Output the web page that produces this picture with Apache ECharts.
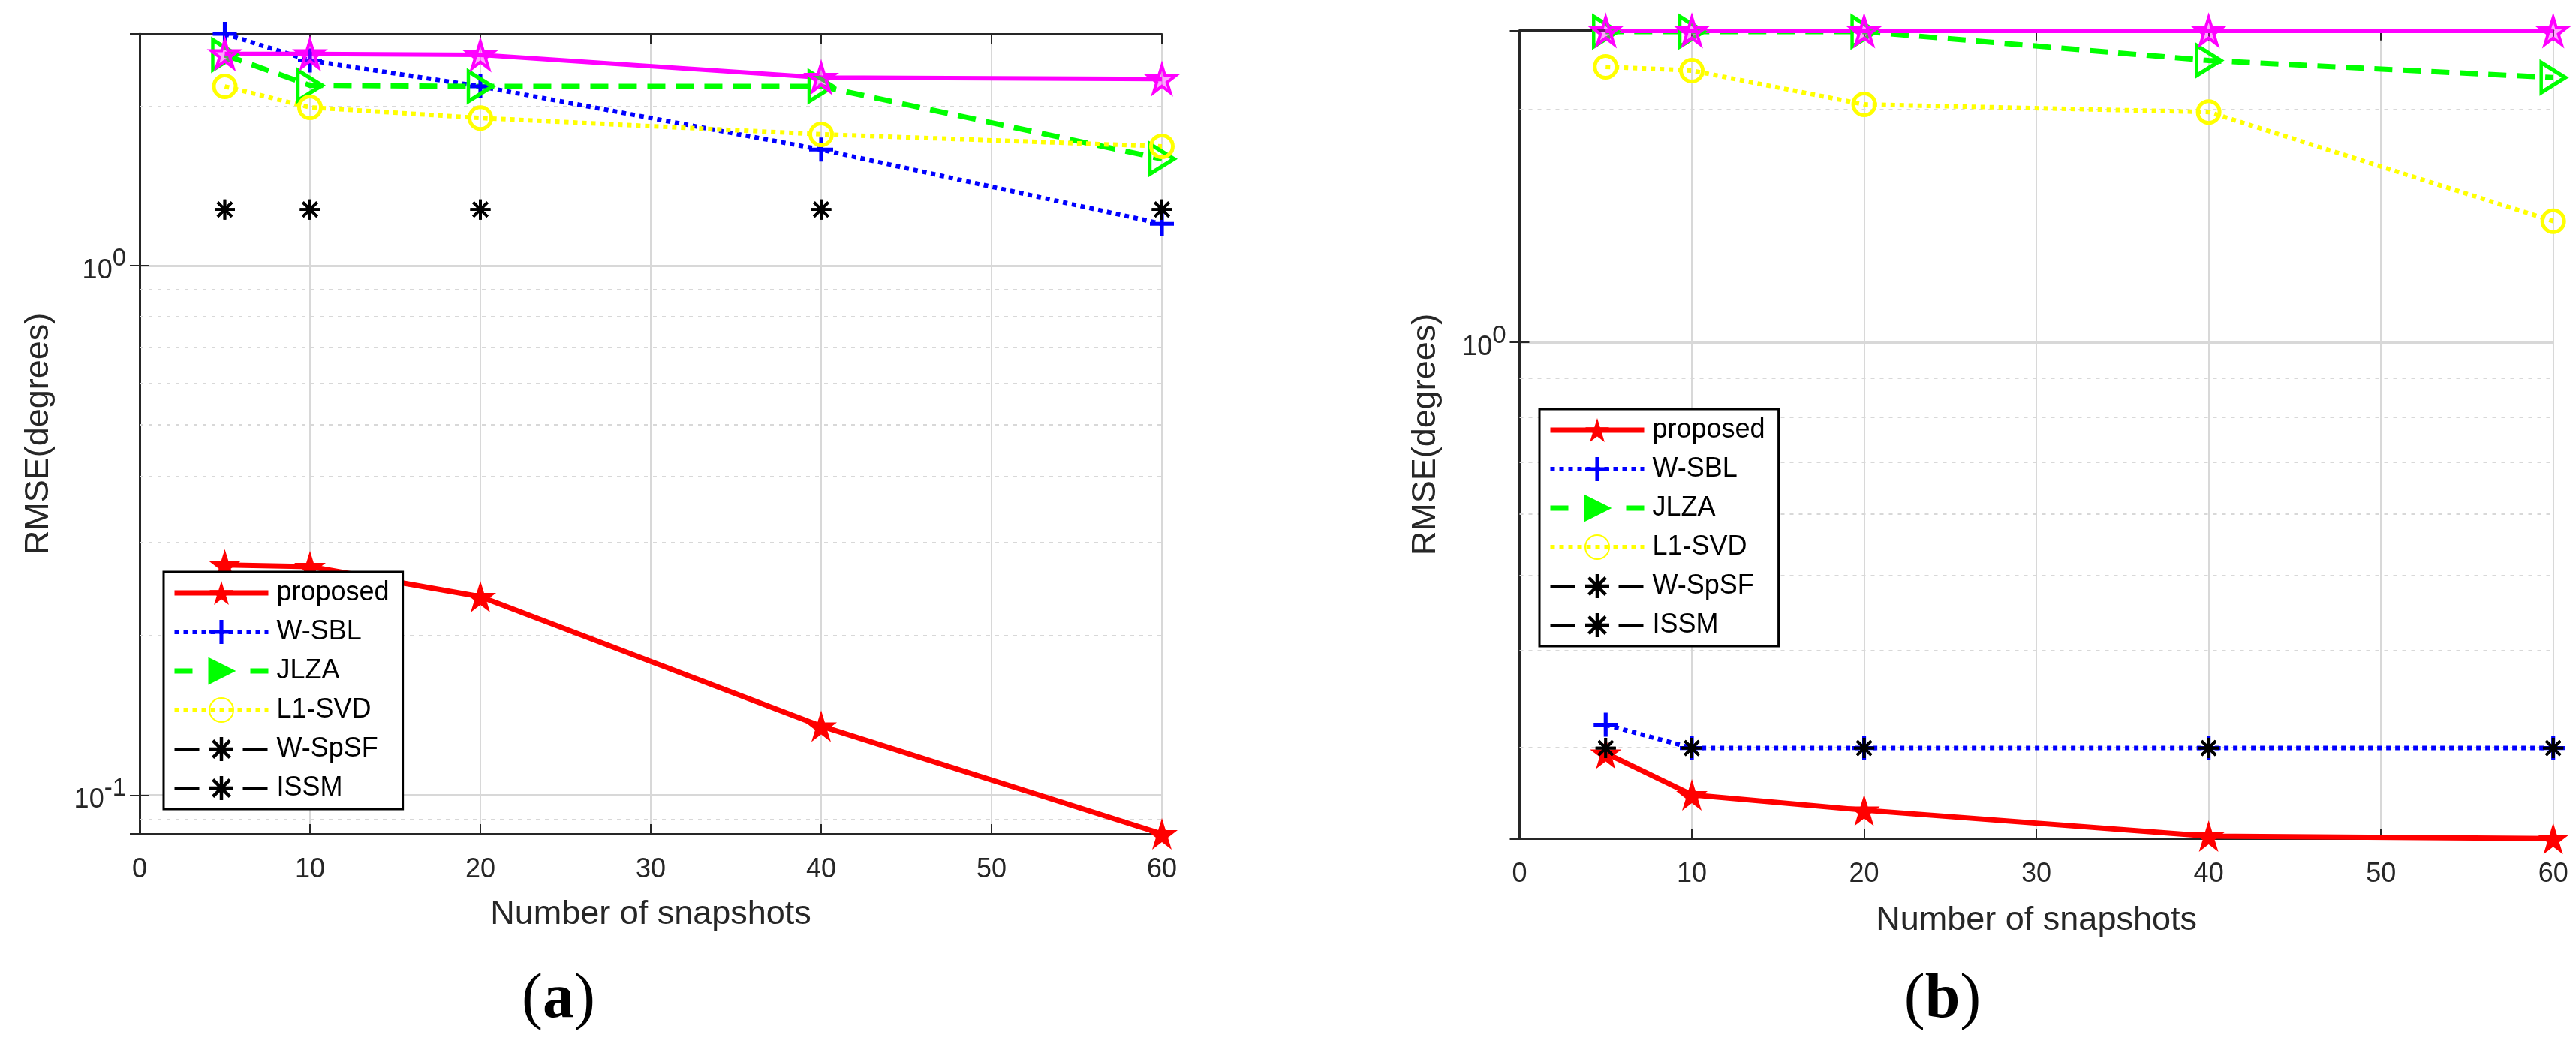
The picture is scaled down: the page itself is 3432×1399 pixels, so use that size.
<!DOCTYPE html>
<html>
<head>
<meta charset="utf-8">
<script src="https://cdn.jsdelivr.net/npm/echarts@6/dist/echarts.min.js"></script>
<style>html,body{margin:0;padding:0;background:#fff}#c{width:3432px;height:1399px}</style>
</head>
<body>
<div id="c"></div>
<script>
// ---------- data ----------
const snapshots = [5, 10, 20, 40, 60];
const legendNames = ['proposed', 'W-SBL', 'JLZA', 'L1-SVD', 'W-SpSF', 'ISSM'];

// panel (a)
const proposedA = [0.272, 0.270, 0.237, 0.135, 0.0845];
const wsblA     = [2.74, 2.44, 2.18, 1.656, 1.199];
const jlzaA     = [2.50, 2.19, 2.18, 2.18, 1.59];
const l1svdA    = [2.18, 1.99, 1.90, 1.77, 1.68];
const wspsfA    = [1.276, 1.276, 1.276, 1.276, 1.276];
const issmA     = [1.276, 1.276, 1.276, 1.276, 1.276];
const magentaA  = [2.51, 2.51, 2.50, 2.265, 2.25];

// panel (b)
const proposedB = [0.295, 0.2606, 0.249, 0.2305, 0.2288];
const wsblB     = [0.321, 0.2995, 0.2995, 0.2995, 0.2995];
const jlzaB     = [2.52, 2.52, 2.52, 2.312, 2.198];
const l1svdB    = [2.269, 2.244, 2.029, 1.984, 1.434];
const wspsfB    = [0.2995, 0.2995, 0.2995, 0.2995, 0.2995];
const issmB     = [0.2995, 0.2995, 0.2995, 0.2995, 0.2995];
const magentaB  = [2.525, 2.525, 2.525, 2.525, 2.525];

// axis ranges / minor grid values
const yRangeA = [0.0845, 2.74];
const yRangeB = [0.2288, 2.527];
const minorA = [0.09, 0.2, 0.3, 0.4, 0.5, 0.6, 0.7, 0.8, 0.9, 2];
const minorB = [0.3, 0.4, 0.5, 0.6, 0.7, 0.8, 0.9, 2];
const panelLabels = ['a', 'b'];

// ---------- styling ----------
const FONT = '"Liberation Sans", Arial, Helvetica, sans-serif';
const SERIF = '"Liberation Serif", "Times New Roman", serif';
const AX = '#262626';
const GRIDC = '#d8d8d8';

const STAR = 'path://M50 0 L61.2 34.5 L97.6 34.5 L68.2 55.9 L79.4 90.5 L50 69.1 L20.6 90.5 L31.8 55.9 L2.4 34.5 L38.8 34.5 Z';
const PLUS = 'path://M42 0 L58 0 L58 42 L100 42 L100 58 L58 58 L58 100 L42 100 L42 58 L0 58 L0 42 L42 42 Z';
const TRI = 'path://M0 0 L100 50 L0 100 Z';
const AST = 'path://M0 43 L100 43 L100 57 L0 57 Z M43 0 L57 0 L57 100 L43 100 Z M19.6 9.7 L90.3 80.4 L80.4 90.3 L9.7 19.6 Z M80.4 9.7 L90.3 19.6 L19.6 90.3 L9.7 80.4 Z';

const styles = {
  'proposed': {symbol: STAR, symbolSize: 42, lineStyle: {color: '#ff0000', width: 7}, itemStyle: {color: '#ff0000'}},
  'W-SBL': {symbol: PLUS, symbolSize: 32, lineStyle: {color: '#0000ff', width: 6, type: [6, 6]}, itemStyle: {color: '#0000ff'}},
  'JLZA': {symbol: TRI, symbolSize: [32, 40], lineStyle: {color: '#00ff00', width: 7, type: [24, 14]}, itemStyle: {color: 'rgba(0,255,0,0)', borderColor: '#00ff00', borderWidth: 5}},
  'L1-SVD': {symbol: 'circle', symbolSize: 29, lineStyle: {color: '#ffff00', width: 6, type: [6, 6]}, itemStyle: {color: 'rgba(255,255,0,0)', borderColor: '#ffff00', borderWidth: 5}},
  'W-SpSF': {symbol: AST, symbolSize: 27, lineStyle: {color: '#000000', width: 4, opacity: 0}, itemStyle: {color: '#000000'}},
  'ISSM': {symbol: AST, symbolSize: 27, lineStyle: {color: '#000000', width: 4, opacity: 0}, itemStyle: {color: '#000000'}},
  'magenta': {symbol: STAR, symbolSize: 36, lineStyle: {color: '#ff00ff', width: 6}, itemStyle: {color: 'rgba(255,0,255,0.35)', borderColor: '#ff00ff', borderWidth: 4}}
};

function pairs(vals) { return snapshots.map((x, i) => [x, vals[i]]); }

function mkSeries(panel, name, vals, minor) {
  const st = styles[name];
  const s = {
    type: 'line', name: name === 'magenta' ? 'magenta-' + panel : name,
    xAxisIndex: panel * 2, yAxisIndex: panel * 2,
    data: pairs(vals), symbol: st.symbol, symbolSize: st.symbolSize,
    showSymbol: true, showAllSymbol: true, clip: false,
    lineStyle: st.lineStyle, itemStyle: st.itemStyle,
    emphasis: {disabled: true}, animation: false, z: 3
  };
  if (minor) {
    s.markLine = {
      silent: true, z: 1, symbol: ['none', 'none'], label: {show: false}, animation: false,
      lineStyle: {color: GRIDC, width: 2, type: [5, 7]},
      emphasis: {disabled: true},
      data: minor.map(v => ({yAxis: v}))
    };
  }
  return s;
}

function logLabel(v) {
  const e = Math.log10(v);
  const r = Math.round(e);
  if (Math.abs(e - r) > 1e-6) return '';
  return '{b|10}{s|' + r + '}';
}

const grids = [
  {left: 186, right: 1884, top: 45, bottom: 288},
  {left: 2024.5, right: 30.3, top: 40.7, bottom: 281.7}
];

function xAxes(gi, nameGap) {
  return [{
    type: 'value', gridIndex: gi, position: 'bottom', min: 0, max: 60, interval: 10,
    name: 'Number of snapshots', nameLocation: 'middle', nameGap: nameGap,
    nameTextStyle: {fontFamily: FONT, fontSize: 45, color: AX},
    axisLine: {show: true, lineStyle: {color: AX, width: 3}},
    axisTick: {show: true, inside: true, length: 13, lineStyle: {color: AX, width: 2}},
    axisLabel: {fontFamily: FONT, fontSize: 36, color: AX, margin: 30},
    splitLine: {show: true, lineStyle: {color: GRIDC, width: 2}}
  }, {
    type: 'value', gridIndex: gi, position: 'top', min: 0, max: 60, interval: 10,
    axisLine: {show: true, lineStyle: {color: AX, width: 3}},
    axisTick: {show: true, inside: true, length: 13, lineStyle: {color: AX, width: 2}},
    axisLabel: {show: false}, splitLine: {show: false}
  }];
}

function yAxes(gi, range, nameGap) {
  const rich = {
    b: {fontFamily: FONT, fontSize: 36, color: AX, padding: [14, 0, 0, 0]},
    s: {fontFamily: FONT, fontSize: 33, color: AX, verticalAlign: 'top'}
  };
  return [{
    type: 'log', logBase: 10, gridIndex: gi, position: 'left', min: range[0], max: range[1],
    name: 'RMSE(degrees)', nameLocation: 'middle', nameGap: nameGap,
    nameTextStyle: {fontFamily: FONT, fontSize: 45, color: AX},
    axisLine: {show: true, lineStyle: {color: AX, width: 3}},
    axisTick: {show: true, inside: true, length: 13, lineStyle: {color: AX, width: 2}},
    axisLabel: {formatter: logLabel, rich: rich, margin: 18, showMinLabel: false, showMaxLabel: false},
    splitLine: {show: true, lineStyle: {color: GRIDC, width: 3}}
  }, {
    type: 'log', logBase: 10, gridIndex: gi, position: 'right', min: range[0], max: range[1],
    axisLine: {show: true, lineStyle: {color: AX, width: 2}},
    axisTick: {show: true, inside: true, length: 13, lineStyle: {color: AX, width: 2}},
    axisLabel: {show: false}, splitLine: {show: false}
  }];
}

function legendData() {
  return legendNames.map(n => {
    if (n === 'W-SpSF' || n === 'ISSM') {
      return {name: n, lineStyle: {color: '#000000', width: 4, type: [33, 58], opacity: 1}};
    }
    if (n === 'JLZA') {
      return {name: n, lineStyle: {color: '#00ff00', width: 7, type: [24, 77], opacity: 1},
              itemStyle: {color: '#00ff00', borderColor: '#00ff00', borderWidth: 3}};
    }
    const ls = styles[n].lineStyle;
    return {name: n, lineStyle: {color: ls.color, width: ls.width, type: ls.type || 'solid', opacity: 1}};
  });
}

function mkLegend(left, top) {
  return {
    show: true, orient: 'vertical', left: left, top: top,
    itemWidth: 125, itemHeight: 40, itemGap: 12,
    padding: [8, 18, 8, 11],
    backgroundColor: '#ffffff', borderColor: '#000000', borderWidth: 3,
    selectedMode: false,
    textStyle: {fontFamily: FONT, fontSize: 36, color: '#000000', lineHeight: 40, padding: [0, 0, 0, 6]},
    data: legendData()
  };
}

const series = [
  mkSeries(0, 'proposed', proposedA),
  mkSeries(0, 'W-SBL', wsblA),
  mkSeries(0, 'JLZA', jlzaA),
  mkSeries(0, 'L1-SVD', l1svdA),
  mkSeries(0, 'W-SpSF', wspsfA),
  mkSeries(0, 'ISSM', issmA),
  mkSeries(0, 'magenta', magentaA, minorA),
  mkSeries(1, 'proposed', proposedB),
  mkSeries(1, 'W-SBL', wsblB),
  mkSeries(1, 'JLZA', jlzaB),
  mkSeries(1, 'L1-SVD', l1svdB),
  mkSeries(1, 'W-SpSF', wspsfB),
  mkSeries(1, 'ISSM', issmB),
  mkSeries(1, 'magenta', magentaB, minorB)
];

function panelText(letter, x) {
  return {
    type: 'text', x: x, y: 1333, silent: true,
    style: {
      text: '{p|(}{b|' + letter + '}{p|)}', align: 'center', verticalAlign: 'middle',
      rich: {
        p: {fontFamily: SERIF, fontSize: 84, fill: '#000000'},
        b: {fontFamily: SERIF, fontSize: 84, fontWeight: 'bold', fill: '#000000'}
      }
    }
  };
}

const option = {
  backgroundColor: '#ffffff',
  animation: false,
  grid: grids,
  xAxis: xAxes(0, 85).concat(xAxes(1, 87)),
  yAxis: yAxes(0, yRangeA, 112).concat(yAxes(1, yRangeB, 102)),
  legend: [mkLegend(218, 762), mkLegend(2051, 545)],
  series: series,
  graphic: [panelText(panelLabels[0], 744), panelText(panelLabels[1], 2588)]
};

const chart = echarts.init(document.getElementById('c'), null, {renderer: 'canvas'});
chart.setOption(option);
</script>
</body>
</html>
